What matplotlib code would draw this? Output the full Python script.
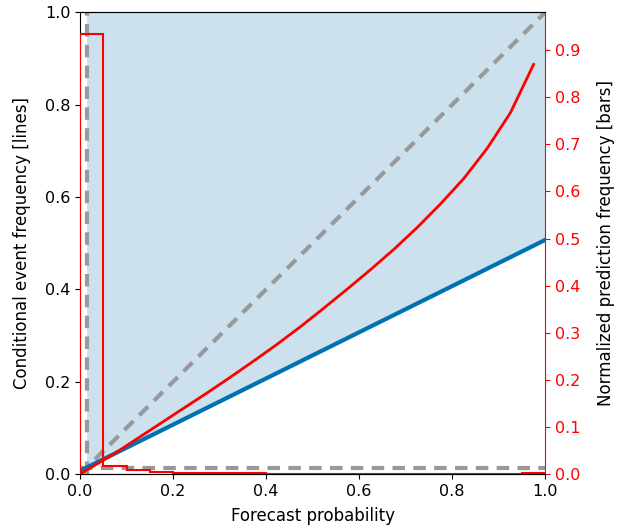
import matplotlib
matplotlib.use("Agg")
import matplotlib.pyplot as plt
import numpy as np

# climatological event frequency
climatology = 0.014

# bin edges and normalized prediction frequency (bars)
bin_edges = [0.0, 0.05, 0.1, 0.15, 0.2, 0.25, 0.3, 0.35, 0.4, 0.45, 0.5,
             0.55, 0.6, 0.65, 0.7, 0.75, 0.8, 0.85, 0.9, 0.95, 1.0]
pred_freq = [0.934, 0.017, 0.0085, 0.005, 0.003, 0.002, 0.0015, 0.0012,
             0.001, 0.0008, 0.0007, 0.0006, 0.0005, 0.0005, 0.0004, 0.0004,
             0.0003, 0.0003, 0.0003, 0.002]

# reliability curve (conditional event frequency)
fc_prob = [0.005, 0.025, 0.075, 0.125, 0.175, 0.225, 0.275, 0.325, 0.375,
           0.425, 0.475, 0.525, 0.575, 0.625, 0.675, 0.725, 0.775, 0.825,
           0.875, 0.925, 0.975]
cond_freq = [0.003, 0.015, 0.045, 0.078, 0.111, 0.144, 0.177, 0.211, 0.246,
             0.282, 0.320, 0.360, 0.401, 0.443, 0.487, 0.534, 0.585, 0.640,
             0.705, 0.782, 0.887]

fig = plt.figure(figsize=(6.21, 5.32), dpi=100)
ax = fig.add_axes([0.129, 0.109, 0.749, 0.868])

def no_skill(x):
    return (np.asarray(x) + climatology) / 2.0

fill_color = '#cce0ee'
xl = np.array([0.0, climatology])
ax.fill_between(xl, 0, no_skill(xl), color=fill_color, lw=0, zorder=0)
xr = np.array([climatology, 1.0])
ax.fill_between(xr, no_skill(xr), 1.0, color=fill_color, lw=0, zorder=0)

dash = dict(ls='--', color='#999999', lw=3, dashes=(3, 2), zorder=2)
ax.plot([0, 1], [0, 1], **dash)
ax.plot([climatology, climatology], [0, 1], **dash)
ax.plot([0, 1], [climatology, climatology], **dash)
ax.plot([0, 1], no_skill([0, 1]), color='#0072B2', lw=3, zorder=3)
ax.plot(fc_prob, cond_freq, color='red', lw=2, zorder=4)

ax.set_xlim(0, 1)
ax.set_ylim(0, 1)
ax.set_xlabel('Forecast probability', fontsize=12, labelpad=6)
ax.set_ylabel('Conditional event frequency [lines]', fontsize=12, labelpad=10)
ax.tick_params(labelsize=11.5)
ax.spines['right'].set_visible(False)

ax2 = ax.twinx()
ax2.stairs(pred_freq, bin_edges, color='red', lw=1.5)
ax2.set_ylim(0, max(pred_freq) * 1.05)
ax2.set_yticks(np.arange(0, 1.0, 0.1))
ax2.set_ylabel('Normalized prediction frequency [bars]', fontsize=12, labelpad=12)
ax2.tick_params(axis='y', colors='red', labelsize=11.5)
ax2.spines['right'].set_color('red')
ax2.spines['left'].set_visible(False)

fig.savefig('out.png', dpi=100)
